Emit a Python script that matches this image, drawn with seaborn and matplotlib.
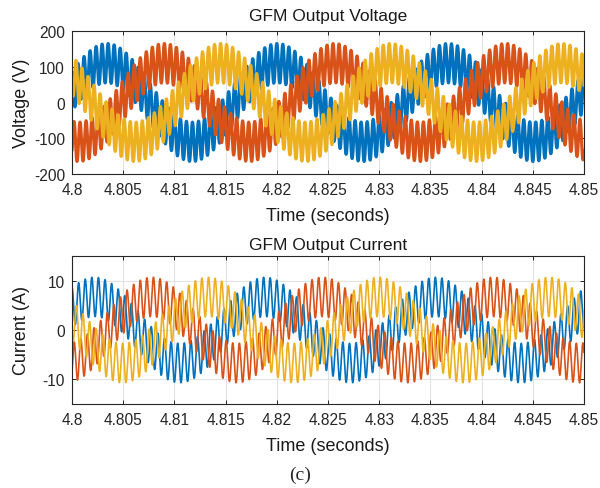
import numpy as np
import pandas as pd
import matplotlib
matplotlib.use("Agg")
import matplotlib.pyplot as plt
import seaborn as sns

# ---- values ----
phase_names = ["Phase A", "Phase B", "Phase C"]
phase_colors = ["#0072BD", "#D95319", "#EDB120"]
time_start, time_end = 4.8, 4.85
fundamental_hz = 60.0

v_peak_time = [4.8034, 4.8090, 4.8145]      # time of first positive crest (s)
v_amplitude = [110.0, 110.0, 110.0]         # fundamental amplitude (V)
v_ripple_amp = [55.0, 55.0, 55.0]           # switching ripple amplitude (V)
v_ripple_hz = 1700.0
v_ripple_phase_deg = [0.0, -120.0, 120.0]

i_peak_time = [4.8022, 4.8078, 4.8133]      # time of first positive crest (s)
i_amplitude = [6.7, 6.7, 6.7]               # fundamental amplitude (A)
i_ripple_amp = [4.0, 4.0, 4.0]              # ripple amplitude (A)
i_ripple_hz = 1550.0
i_ripple_phase_deg = [0.0, -120.0, 120.0]

x_ticks = [4.8, 4.805, 4.81, 4.815, 4.82, 4.825, 4.83, 4.835, 4.84, 4.845, 4.85]
x_tick_labels = ["4.8", "4.805", "4.81", "4.815", "4.82", "4.825", "4.83",
                 "4.835", "4.84", "4.845", "4.85"]
v_ticks = [-200, -100, 0, 100, 200]
i_ticks = [-10, 0, 10]

# ---- build long-form tables ----
t = np.linspace(time_start, time_end, 20001)

def build(peaks, amps, ramps, rhz, rph):
    frames = []
    for name, tp, a, ra, ph in zip(phase_names, peaks, amps, ramps, rph):
        y = a * np.cos(2 * np.pi * fundamental_hz * (t - tp)) + \
            ra * np.cos(2 * np.pi * rhz * (t - time_start) + np.deg2rad(ph))
        frames.append(pd.DataFrame({"time": t, "value": y, "phase": name}))
    return pd.concat(frames, ignore_index=True)

df_v = build(v_peak_time, v_amplitude, v_ripple_amp, v_ripple_hz, v_ripple_phase_deg)
df_i = build(i_peak_time, i_amplitude, i_ripple_amp, i_ripple_hz, i_ripple_phase_deg)

sns.set_theme(style="white")
plt.rcParams["font.family"] = ["Liberation Sans", "DejaVu Sans"]
plt.rcParams["axes.unicode_minus"] = False

fig = plt.figure(figsize=(6.0, 4.89), dpi=100)
ax_v = fig.add_axes([72 / 600, 1 - 175 / 489, 512 / 600, 143 / 489])
ax_i = fig.add_axes([72 / 600, 1 - 405 / 489, 512 / 600, 148 / 489])

palette = dict(zip(phase_names, phase_colors))

sns.lineplot(data=df_v, x="time", y="value", hue="phase", palette=palette,
             estimator=None, sort=False, lw=2.3, legend=False, ax=ax_v)
sns.lineplot(data=df_i, x="time", y="value", hue="phase", palette=palette,
             estimator=None, sort=False, lw=1.2, legend=False, ax=ax_i)

for ax, ticks, ylim, title, ylabel, tpad in [
    (ax_v, v_ticks, (-200, 200), "GFM Output Voltage", "Voltage (V)", 8),
    (ax_i, i_ticks, (-15, 15), "GFM Output Current", "Current (A)", 5),
]:
    ax.set_xlim(time_start, time_end)
    ax.set_ylim(*ylim)
    ax.set_xticks(x_ticks)
    ax.set_xticklabels(x_tick_labels)
    ax.set_yticks(ticks)
    ax.grid(True, color="#e3e3e3", lw=0.8)
    ax.set_axisbelow(True)
    for s in ax.spines.values():
        s.set_color("#262626")
        s.set_linewidth(0.8)
        s.set_visible(True)
    ax.tick_params(direction="in", length=3, width=0.7, colors="#262626",
                   labelsize=11.2, top=True, right=True, left=True, bottom=True,
                   labelcolor="#262626")
    ax.tick_params(axis="x", pad=6)
    ax.tick_params(axis="y", pad=5)
    ax.set_title(title, fontsize=12.5, color="#1a1a1a", pad=tpad)
    ax.set_xlabel("Time (seconds)", fontsize=13, color="#1a1a1a", labelpad=7)
    ax.set_ylabel(ylabel, fontsize=13, color="#1a1a1a")
    ax.yaxis.set_label_coords(-0.082, 0.5)

fig.text(0.5, 1 - 475 / 489, "(c)", ha="center", va="center",
         fontsize=14, family=["Liberation Serif", "DejaVu Serif"])

fig.savefig("out.png", dpi=100)
